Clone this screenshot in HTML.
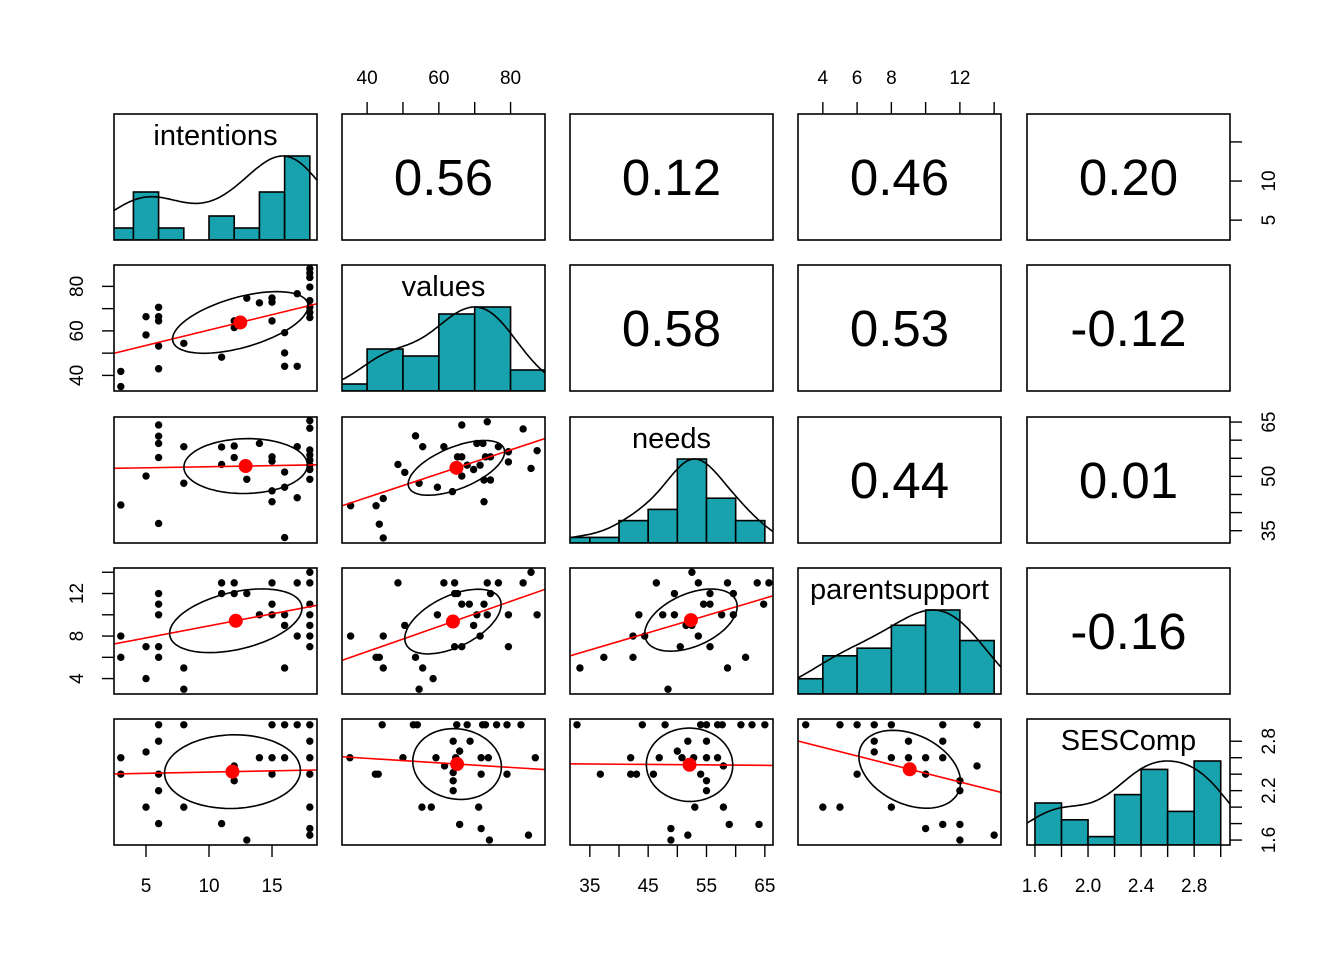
<!DOCTYPE html>
<html><head><meta charset="utf-8"><style>
html,body{margin:0;padding:0;background:#fff;}
svg{display:block;font-family:"Liberation Sans",Arial,sans-serif;}
</style></head><body>
<svg id="chart" width="1344" height="960" viewBox="0 0 1344 960" xmlns="http://www.w3.org/2000/svg"></svg>
<script>
// ---- data ----
const varNames = ["intentions","values","needs","parentsupport","SESComp"];
const varLo = [2.46, 33.0, 31.6, 2.55, 1.54];
const varHi = [18.57, 89.6, 66.4, 14.4, 3.07];

const histStart = [2, 30, 30, 2, 1.6];
const histWidth = [2, 10, 5, 2, 0.2];
const histIntentions = [2,8,2,0,4,2,8,14];
const histValues = [1,6,5,11,12,3];
const histNeeds = [1,1,4,6,15,8,4];
const histParent = [2,5,6,9,11,7];
const histSES = [5,3,1,6,9,4,10];

const corrRows = [0,0,0,0,1,1,1,2,2,3];
const corrCols = [1,2,3,4,2,3,4,3,4,4];
const corrLabels = ["0.56","0.12","0.46","0.20","0.58","0.53","-0.12","0.44","0.01","-0.16"];

const r2c1x = [3,3,5,5,6,6,6,6,6,8,11,12,12,13,14,15,15,15,16,16,16,17,17,18,18,18,18,18,18,18,18];
const r2c1y = [41.8,35,66.4,58.2,70.6,66.4,64.5,53.2,43,54.4,48.2,64.5,61.5,74.7,72.6,74.8,72.9,64.5,59.2,50.1,44.1,76.7,44.1,88,86,84,79.7,73.6,70.6,68.3,66];
const r3c1x = [3,5,6,6,6,6,6,8,8,11,11,12,12,13,14,15,15,15,15,16,16,16,17,17,18,18,18,18,18,18,18,18];
const r3c1y = [42.1,50.1,64.2,61.1,59.1,55.2,37.0,58.2,48.1,58.1,53.3,58.4,55.2,49.2,59.1,55.4,54.2,46.0,43.0,51.2,47,33.1,58.2,44.1,65.4,63.3,57.3,55.9,54.5,53.1,51.9,49.2];
const r3c2x = [35.4,42.5,44.5,43.4,44.5,48.6,50.5,53.5,54.5,55.5,59.6,61.4,63.8,65.2,66.4,66.4,66.4,67.9,69.7,70.6,72.3,71.5,73.0,72.6,72.6,73.5,74.4,74.4,76.6,79.4,79.4,83.5,85.7,87.4];
const r3c2y = [41.9,41.9,43.9,36.8,33.0,53.3,51.1,61.2,48.1,58.2,47.0,58.2,45.8,55.4,55.4,50.1,64.2,53.1,51.9,59.1,59.1,53.1,55.4,49.0,43.0,65.1,55.4,49.0,58.2,56.8,54.0,63.1,52.2,57.1];
const r4c1x = [3,3,5,5,6,6,6,6,6,8,8,11,11,12,12,13,14,15,15,15,16,16,16,17,17,18,18,18,18,18,18,18];
const r4c1y = [8,6,7,4,12,11,10,7,6,5,3,13,12,13,12,12,10,13,11,10,10,9,5,13,8,14,13,11,10,9,8,7];
const r4c2x = [35.4,42.5,43.4,44.5,44.5,48.6,50.5,53.5,54.5,55.5,58.4,59.6,61.4,64.4,64.4,65.2,64.4,66.4,66.4,68.5,69.7,70.6,71.5,72.6,73.5,73.5,74.4,76.6,79.4,79.4,83.5,85.7,87.4];
const r4c2y = [8,6,6,8,5,13,9,6,3,5,4,10,13,13,12,12,7,7,11,11,9,10,8,11,13,10,12,13,10,7,13,14,10];
const r4c3x = [33.3,37.4,42.4,42.4,43.4,44.4,46.4,47.5,48.4,49.5,49.5,50.5,51.5,52.5,52.5,53.6,53.6,54.5,55.6,55.6,55.6,57.6,58.6,58.6,59.6,59.6,61.7,63.7,65.7,64.8];
const r4c3y = [5,6,6,8,10,8,13,10,3,12,10,7,9,14,9,13,8,11,11,12,7,10,13,5,12,10,6,13,13,11];
const r5c1x = [3,3,5,5,6,6,6,6,6,8,8,11,12,12,13,14,15,15,15,16,16,17,18,18,18,18,18,18,18];
const r5c1y = [2.6,2.4,2.67,2.0,3.0,2.8,2.4,2.2,1.8,3.0,2.0,1.8,2.5,2.32,1.6,2.6,3.0,2.6,2.4,3.0,2.6,3.0,3.0,2.8,2.6,2.4,2.0,1.74,1.66];
const r5c2x = [35.2,42.3,43.1,44.2,50.0,52.9,54.0,55.3,57.9,59.2,61.6,64.0,64.0,64.0,64.0,64.7,65.8,65.0,67.9,65.8,68.7,71.1,71.8,71.8,71.8,72.2,73.0,73.8,74.1,76.1,79.0,79.0,82.9,85.0,86.9];
const r5c2y = [2.6,2.4,2.4,3.0,2.6,3.0,3.0,2.0,2.0,2.6,2.5,2.8,2.42,2.32,2.2,2.6,2.68,3.0,3.0,1.79,2.8,2.0,2.6,2.4,1.74,3.0,3.0,2.6,1.6,3.0,3.0,2.4,3.0,1.66,2.6];
const r5c3x = [32.8,36.8,42.0,42.0,43.0,44.0,45.9,46.9,47.9,48.9,48.9,50.0,50.8,51.8,51.8,52.8,53.0,54.0,55.0,54.0,55.0,55.0,55.0,55.0,56.9,57.7,56.9,57.9,57.9,58.9,60.9,62.8,65.0,64.0];
const r5c3y = [3.0,2.4,2.6,2.4,2.4,3.0,2.4,2.6,3.0,1.74,1.6,2.68,2.6,2.8,1.66,2.6,2.0,3.0,3.0,2.4,2.8,2.6,2.32,2.2,3.0,3.0,2.6,2.5,2.0,1.79,3.0,3.0,3.0,1.79];
const r5c4x = [3,4,5,5,6,6,7,7,7,8,8,8,9,9,10,10,10,11,11,11,11,12,12,12,12,13,13,14];
const r5c4y = [3.0,2.0,3.0,2.0,3.0,2.4,3.0,2.8,2.67,3.0,2.6,2.0,2.8,2.6,2.6,2.4,1.74,3.0,2.8,2.6,1.79,2.32,2.2,1.79,1.6,3.0,2.5,1.66];

const topTicksValues = [40,50,60,70,80];
const topLabelsValues = [40,60,80];
const topTicksParent = [4,6,8,10,12,14];
const topLabelsParent = [4,6,8,12];
const bottomTicksIntent = [5,10,15];
const bottomLabelsIntent = [5,10,15];
const bottomTicksNeeds = [35,40,45,50,55,60,65];
const bottomLabelsNeeds = [35,45,55,65];
const bottomTicksSES = [1.6,1.8,2.0,2.2,2.4,2.6,2.8,3.0];
const bottomLabelsSES = ["1.6","2.0","2.4","2.8"];
const leftTicksValues = [40,50,60,70,80];
const leftLabelsValues = [40,60,80];
const leftTicksParent = [4,6,8,10,12,14];
const leftLabelsParent = [4,8,12];
const rightTicksIntent = [5,10,15];
const rightLabelsIntent = [5,10];
const rightTicksNeeds = [35,40,45,50,55,60,65];
const rightLabelsNeeds = [35,50,65];
const rightTicksSES = [1.6,1.8,2.0,2.2,2.4,2.6,2.8];
const rightLabelsSES = ["1.6","2.2","2.8"];

// ---- layout ----
const colLeft = [114,342,570,798,1027];
const rowTop = [114,265,417,568,719];
const PW = 203, PH = 126;
const svg = document.getElementById('chart');
const NS = 'http://www.w3.org/2000/svg';
function mk(tag, attrs, parent){
  const e = document.createElementNS(NS, tag);
  for (const k in attrs) e.setAttribute(k, attrs[k]);
  (parent||svg).appendChild(e);
  return e;
}
function sx(v, col){ const i = col; return colLeft[col] + (v - varLo[i])/(varHi[i]-varLo[i])*PW; }
function sy(v, row){ const i = row; return rowTop[row] + PH - (v - varLo[i])/(varHi[i]-varLo[i])*PH; }

const defs = mk('defs', {});
for (let r=0;r<5;r++) for (let c=0;c<5;c++){
  const cp = mk('clipPath', {id:'clip'+r+c}, defs);
  mk('rect', {x:colLeft[c], y:rowTop[r], width:PW, height:PH}, cp);
}

const histCounts = [histIntentions, histValues, histNeeds, histParent, histSES];

// histograms on diagonal
for (let i=0;i<5;i++){
  const g = mk('g', {'clip-path':'url(#clip'+i+i+')'});
  
  
  const counts = histCounts[i];
  const n = counts.reduce((a,b)=>a+b,0);
  const dens = counts.map(c=>c/(n*histWidth[i]));
  const sample = [];
  counts.forEach((c,k)=>{ for(let j=0;j<c;j++) sample.push(histStart[i]+histWidth[i]*(k+0.5)); });
  const mean = sample.reduce((a,b)=>a+b,0)/sample.length;
  const sd = Math.sqrt(sample.reduce((a,b)=>a+(b-mean)*(b-mean),0)/(sample.length-1));
  const sorted = sample.slice().sort((a,b)=>a-b);
  const q = p=>{const h=(sorted.length-1)*p, l=Math.floor(h); return sorted[l]+(h-l)*((sorted[l+1]??sorted[l])-sorted[l]);};
  const iqr = q(0.75)-q(0.25);
  const bw = 1.3*0.9*Math.min(sd, iqr>0?iqr/1.34:sd)*Math.pow(sample.length,-0.2);
  const kx=[], ky=[];
  for (let s=0;s<=120;s++){
    const x = varLo[i] + (varHi[i]-varLo[i])*s/120;
    let d=0; sample.forEach(v=>{ const z=(x-v)/bw; d+=Math.exp(-0.5*z*z); });
    d /= sample.length*bw*Math.sqrt(2*Math.PI);
    kx.push(x); ky.push(d);
  }
  const maxBar = Math.max(...dens), maxK = Math.max(...ky);
  const top = 1.5*maxBar;
  const yb = rowTop[i]+PH;
  const hy = d => yb - d/top*PH;
  const ky2 = ky.map(d=>d*maxBar/maxK*1.0);
  counts.forEach((c,k)=>{
    if (c===0) return;
    const x0 = sx(histStart[i]+histWidth[i]*k, i), x1 = sx(histStart[i]+histWidth[i]*(k+1), i);
    const b = mk('rect', {x:x0, y:hy(dens[k]), width:x1-x0, height:yb-hy(dens[k]), fill:'#17a2ad', stroke:'#000', 'stroke-width':1.6}, g);
    
    
  });
  const path = kx.map((x,s)=>(s?'L':'M')+sx(x,i).toFixed(1)+','+hy(ky2[s]).toFixed(1)).join('');
  const dl = mk('path', {d:path, fill:'none', stroke:'#000', 'stroke-width':1.6}, g);
  
  
  const t = mk('text', {x:colLeft[i]+PW/2, y:rowTop[i]+31, 'text-anchor':'middle', 'font-size':29, fill:'#000'});
  t.textContent = varNames[i];
  
  
}

// scatter panels
const scatters = [
  [1,0,r2c1x,r2c1y],[2,0,r3c1x,r3c1y],[2,1,r3c2x,r3c2y],
  [3,0,r4c1x,r4c1y],[3,1,r4c2x,r4c2y],[3,2,r4c3x,r4c3y],
  [4,0,r5c1x,r5c1y],[4,1,r5c2x,r5c2y],[4,2,r5c3x,r5c3y],[4,3,r5c4x,r5c4y]
];
scatters.forEach(([r,c,xs,ys])=>{
  const g = mk('g', {'clip-path':'url(#clip'+r+c+')'});
  
  
  xs.forEach((x,k)=>{
    const p = mk('circle', {cx:sx(x,c), cy:sy(ys[k],r), r:3.7, fill:'#000'}, g);
    
    
  });
  const n = xs.length;
  const mx = xs.reduce((a,b)=>a+b,0)/n, my = ys.reduce((a,b)=>a+b,0)/n;
  let sxx=0, syy=0, sxy=0;
  xs.forEach((x,k)=>{ sxx+=(x-mx)**2; syy+=(ys[k]-my)**2; sxy+=(x-mx)*(ys[k]-my); });
  const sdx = Math.sqrt(sxx/(n-1)), sdy = Math.sqrt(syy/(n-1));
  const rr = sxy/Math.sqrt(sxx*syy);
  const slope = sxy/sxx, icpt = my - slope*mx;
  const lx0 = varLo[c], lx1 = varHi[c];
  const ln = mk('line', {x1:sx(lx0,c), y1:sy(icpt+slope*lx0,r), x2:sx(lx1,c), y2:sy(icpt+slope*lx1,r), stroke:'#ff0000', 'stroke-width':1.6}, g);
  
  
  const d = Math.acos(Math.max(-1,Math.min(1,rr)));
  let ep = '';
  for (let s=0;s<=100;s++){
    const t = 2*Math.PI*s/100;
    const ex = mx + sdx*Math.cos(t + d/2), ey = my + sdy*Math.cos(t - d/2);
    ep += (s?'L':'M')+sx(ex,c).toFixed(1)+','+sy(ey,r).toFixed(1);
  }
  const el = mk('path', {d:ep+'Z', fill:'none', stroke:'#000', 'stroke-width':1.6}, g);
  
  
  const m = mk('circle', {cx:sx(mx,c), cy:sy(my,r), r:7, fill:'#ff0000'}, g);
  
  
});

// correlation panels
corrLabels.forEach((lab,k)=>{
  const r = corrRows[k], c = corrCols[k];
  const t = mk('text', {x:colLeft[c]+PW/2, y:rowTop[r]+PH/2+18, 'text-anchor':'middle', 'font-size':51, fill:'#000'});
  t.textContent = lab;
  
  
});

// panel boxes
for (let r=0;r<5;r++) for (let c=0;c<5;c++){
  const b = mk('rect', {x:colLeft[c], y:rowTop[r], width:PW, height:PH, fill:'none', stroke:'#000', 'stroke-width':1.6});
  
  
}

// axes
function axis(side, idx, ticks, labels){
  const g = mk('g', {});
  
  
  ticks.forEach(v=>{
    let a;
    if (side==='top'){ const x=sx(v,idx); a={x1:x,y1:rowTop[0],x2:x,y2:rowTop[0]-12}; }
    else if (side==='bottom'){ const x=sx(v,idx); a={x1:x,y1:rowTop[4]+PH,x2:x,y2:rowTop[4]+PH+12}; }
    else if (side==='left'){ const y=sy(v,idx); a={x1:colLeft[0],y1:y,x2:colLeft[0]-12,y2:y}; }
    else { const y=sy(v,idx); a={x1:colLeft[4]+PW,y1:y,x2:colLeft[4]+PW+12,y2:y}; }
    a.stroke='#000'; a['stroke-width']=1.4;
    const tk = mk('line', a, g);
    
    
  });
  labels.forEach(lv=>{
    const v = parseFloat(lv);
    let t;
    if (side==='top') t = mk('text', {x:sx(v,idx), y:84, 'text-anchor':'middle', 'font-size':19}, g);
    else if (side==='bottom') t = mk('text', {x:sx(v,idx), y:892, 'text-anchor':'middle', 'font-size':19}, g);
    else if (side==='left'){ const y=sy(v,idx); t = mk('text', {x:83, y:y, 'text-anchor':'middle', 'font-size':19, transform:'rotate(-90 83 '+y+')'}, g); }
    else { const y=sy(v,idx); t = mk('text', {x:1275, y:y, 'text-anchor':'middle', 'font-size':19, transform:'rotate(-90 1275 '+y+')'}, g); }
    t.textContent = String(lv);
    
    
  });
}
axis('top',1,topTicksValues,topLabelsValues);
axis('top',3,topTicksParent,topLabelsParent);
axis('bottom',0,bottomTicksIntent,bottomLabelsIntent);
axis('bottom',2,bottomTicksNeeds,bottomLabelsNeeds);
axis('bottom',4,bottomTicksSES,bottomLabelsSES);
axis('left',1,leftTicksValues,leftLabelsValues);
axis('left',3,leftTicksParent,leftLabelsParent);
axis('right',0,rightTicksIntent,rightLabelsIntent);
axis('right',2,rightTicksNeeds,rightLabelsNeeds);
axis('right',4,rightTicksSES,rightLabelsSES);
</script>
</body></html>
